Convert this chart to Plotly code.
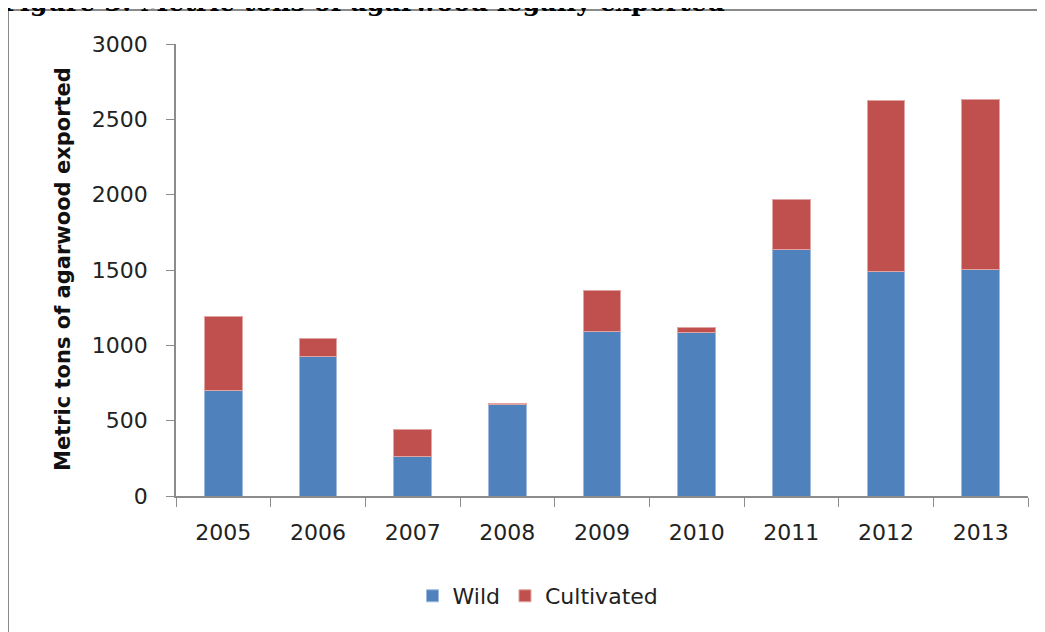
import plotly.graph_objects as go

years = ["2005", "2006", "2007", "2008", "2009", "2010", "2011", "2012", "2013"]
wild = [700, 924, 265, 608, 1090, 1082, 1639, 1491, 1502]
cultivated = [494, 120, 178, 9, 272, 39, 330, 1135, 1132]
y_ticks = [0, 500, 1000, 1500, 2000, 2500, 3000]

OFF = 8  # page body margin
W, H = 1045 - OFF, 632 - OFF
# plot area in page pixels
PL, PR, PT, PB = 176, 1028, 44, 496
L, T = PL - OFF, PT - OFF
R, B = W - (PR - OFF), H - (PB - OFF)
pw, ph = W - L - R, H - T - B

def px_x(p):
    return (p - PL) / pw

def px_y(p):
    return (PB - p) / ph

font = "DejaVu Sans"

fig = go.Figure()
fig.add_trace(go.Bar(x=years, y=wild, name="Wild",
                     marker=dict(color="#4F81BD", line=dict(color="#9DB9DD", width=1))))
fig.add_trace(go.Bar(x=years, y=cultivated, name="Cultivated",
                     marker=dict(color="#C0504D", line=dict(color="#E0A5A3", width=1))))

fig.update_layout(
    width=W, height=H, barmode="stack", bargap=0.6,
    margin=dict(l=L, r=R, t=T, b=B, autoexpand=False),
    plot_bgcolor="white", paper_bgcolor="white",
    font=dict(family=font, color="#222222"),
    showlegend=True,
    legend=dict(orientation="h", x=px_x(538), y=px_y(596), xanchor="center", yanchor="middle",
                font=dict(size=22, family=font, color="#222"), itemwidth=30,
                traceorder="normal"),
    xaxis=dict(type="category", showline=True, linecolor="#8C8C8C", linewidth=1.5,
               ticks="outside", tickson="boundaries", ticklen=9, tickcolor="#8C8C8C",
               tickwidth=1.2, ticklabelstandoff=16,
               tickfont=dict(size=22, family=font, color="#222"), showgrid=False),
    yaxis=dict(range=[0, 3000], tickvals=y_ticks, showline=True, linecolor="#8C8C8C",
               linewidth=1.5, ticks="outside", ticklen=8, tickcolor="#8C8C8C", tickwidth=1.2,
               ticklabelstandoff=14, tickfont=dict(size=22, family=font, color="#222"),
               showgrid=False, zeroline=False),
)

fig.add_annotation(text="<b>Metric tons of agarwood exported</b>", textangle=-90,
                   xref="paper", yref="paper", x=px_x(63), y=px_y(269),
                   xanchor="center", yanchor="middle", showarrow=False,
                   font=dict(size=21, family=font, color="#111"))

fig.add_annotation(text="<b>Figure 3: Metric tons of agarwood legally exported</b>",
                   xref="paper", yref="paper", x=px_x(0), y=px_y(19),
                   xanchor="left", yanchor="bottom", showarrow=False,
                   font=dict(size=25.4, family="DejaVu Serif", color="#000"))

fig.add_shape(type="rect", xref="paper", yref="paper",
              x0=px_x(8), x1=px_x(1070), y0=px_y(660), y1=px_y(10),
              line=dict(color="#8A8A8A", width=2), fillcolor="rgba(0,0,0,0)", layer="above")

fig.write_html("out.html")
